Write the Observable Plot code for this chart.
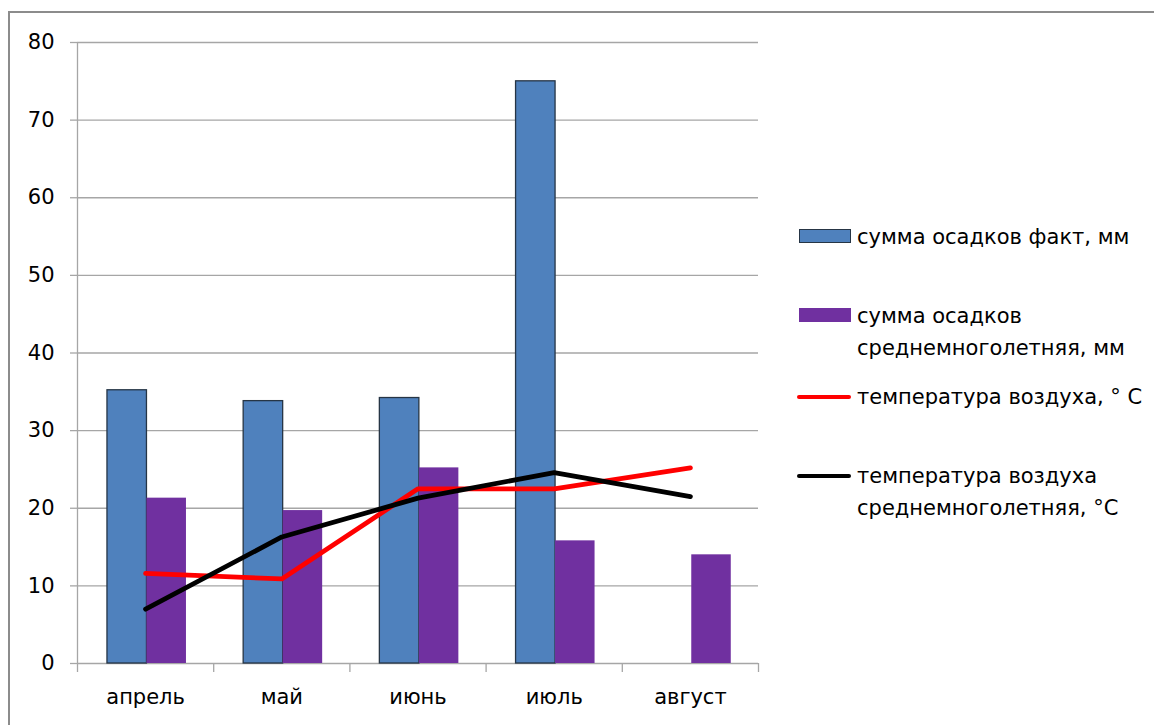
<!DOCTYPE html>
<html>
<head>
<meta charset="utf-8">
<script src="https://cdn.jsdelivr.net/npm/d3@7"></script>
<script src="https://cdn.jsdelivr.net/npm/@observablehq/plot@0.6"></script>
<style>
  body { margin: 0; background: #fff; font-family: "DejaVu Sans", sans-serif; }
  #wrap { position: relative; width: 1154px; height: 725px; overflow: hidden; background: #fff; }
  #frame { position: absolute; left: 8px; top: 11px; width: 1300px; height: 900px;
           border-left: 2px solid #8c8c8c; border-top: 2px solid #8c8c8c; }
  #chart { position: absolute; left: 0; top: 0; }
  .legend { position: absolute; left: 0; top: 0; font-size: 21px; color: #000; }
  .item { position: absolute; left: 797px; white-space: nowrap; }
  .sw { position: absolute; }
  .lab { position: absolute; left: 60px; line-height: 32px; }
</style>
</head>
<body>
<div id="wrap">
  <div id="frame"></div>
  <div id="chart"></div>
  <div class="legend" id="legend"></div>
</div>
<script>
// Months along the x axis
const months = ["апрель", "май", "июнь", "июль", "август"];
// Precipitation, mm (no actual value for August)
const precipActual = [35.2, 33.8, 34.2, 75.0, null];
const precipNormal = [21.3, 19.7, 25.2, 15.8, 14.0];
// Air temperature, °C
const tempActual = [11.6, 10.9, 22.5, 22.5, 25.2];
const tempNormal = [7.0, 16.3, 21.3, 24.6, 21.5];
// Value axis ticks
const yTicks = [0, 10, 20, 30, 40, 50, 60, 70, 80];

const seriesNames = [
  "сумма осадков факт, мм",
  "сумма осадков среднемноголетняя, мм",
  "температура воздуха, ° С",
  "температура воздуха среднемноголетняя, °С"
];
const colors = ["#4f81bd", "#7030a0", "#ff0000", "#000000"];

const rows = (arr) => arr.map((v, i) => ({i, v, month: months[i]})).filter(d => d.v != null);
const barW = 0.29; // bar width as a fraction of a month slot
const gridColor = "#a6a6a6";
const boundaries = d3.range(-0.5, months.length, 1);

const chart = Plot.plot({
  width: 780,
  height: 725,
  marginLeft: 77,
  marginRight: 22,
  marginTop: 42,
  marginBottom: 62,
  x: {type: "linear", domain: [-0.5, months.length - 0.5]},
  y: {domain: [0, 80]},
  style: {fontFamily: "DejaVu Sans", fontSize: "21px", color: "#000", background: "transparent"},
  marks: [
    Plot.gridY({ticks: yTicks, stroke: gridColor, strokeOpacity: 1, strokeWidth: 1.3}),
    Plot.axisY({ticks: yTicks, tickSize: 7, tickPadding: 16, stroke: gridColor, strokeWidth: 1.3,
                fill: "#000", fontSize: 21, label: null}),
    Plot.ruleX([-0.5], {stroke: gridColor, strokeWidth: 1.3}),
    Plot.axisX({ticks: boundaries, tickFormat: () => "", tickSize: 9, stroke: gridColor,
                strokeWidth: 1.3, label: null}),
    Plot.axisX({ticks: d3.range(months.length), tickFormat: i => months[i], tickSize: 0,
                tickPadding: 26, fill: "#000", fontSize: 21, label: null}),
    Plot.rectY(rows(precipActual), {x1: d => d.i - barW + 0.01, x2: d => d.i + 0.01, y1: 0, y2: "v",
                fill: colors[0], stroke: "#263545", strokeWidth: 1.3}),
    Plot.rectY(rows(precipNormal), {x1: d => d.i + 0.01, x2: d => d.i + barW + 0.01, y1: 0, y2: "v",
                fill: colors[1]}),
    Plot.line(rows(tempActual), {x: "i", y: "v", stroke: colors[2], strokeWidth: 4.8,
                strokeLinecap: "round", strokeLinejoin: "round"}),
    Plot.line(rows(tempNormal), {x: "i", y: "v", stroke: colors[3], strokeWidth: 4.8,
                strokeLinecap: "round", strokeLinejoin: "round"})
  ]
});
document.getElementById("chart").append(chart);

// Legend on the right
const legendItems = [
  {name: seriesNames[0], kind: "bar", color: colors[0], stroke: "#263545", top: 221},
  {name: seriesNames[1], kind: "bar", color: colors[1], stroke: null, top: 300,
   text: ["сумма осадков", "среднемноголетняя, мм"]},
  {name: seriesNames[2], kind: "line", color: colors[2], top: 381},
  {name: seriesNames[3], kind: "line", color: colors[3], top: 460,
   text: ["температура воздуха", "среднемноголетняя, °С"]}
];
const legend = d3.select("#legend");
for (const it of legendItems) {
  const g = legend.append("div").attr("class", "item").style("top", it.top + "px");
  if (it.kind === "bar") {
    g.append("div").attr("class", "sw")
      .style("left", "2px").style("top", "8px")
      .style("width", (it.stroke ? 50 : 52) + "px").style("height", (it.stroke ? 12 : 14) + "px")
      .style("background", it.color)
      .style("border", it.stroke ? `1px solid ${it.stroke}` : "none");
  } else {
    g.append("div").attr("class", "sw")
      .style("left", "0px").style("top", "14px")
      .style("width", "54px").style("height", "4px")
      .style("border-radius", "2px")
      .style("background", it.color);
  }
  g.append("div").attr("class", "lab").html((it.text || [it.name]).join("<br>"));
}
</script>
</body>
</html>
